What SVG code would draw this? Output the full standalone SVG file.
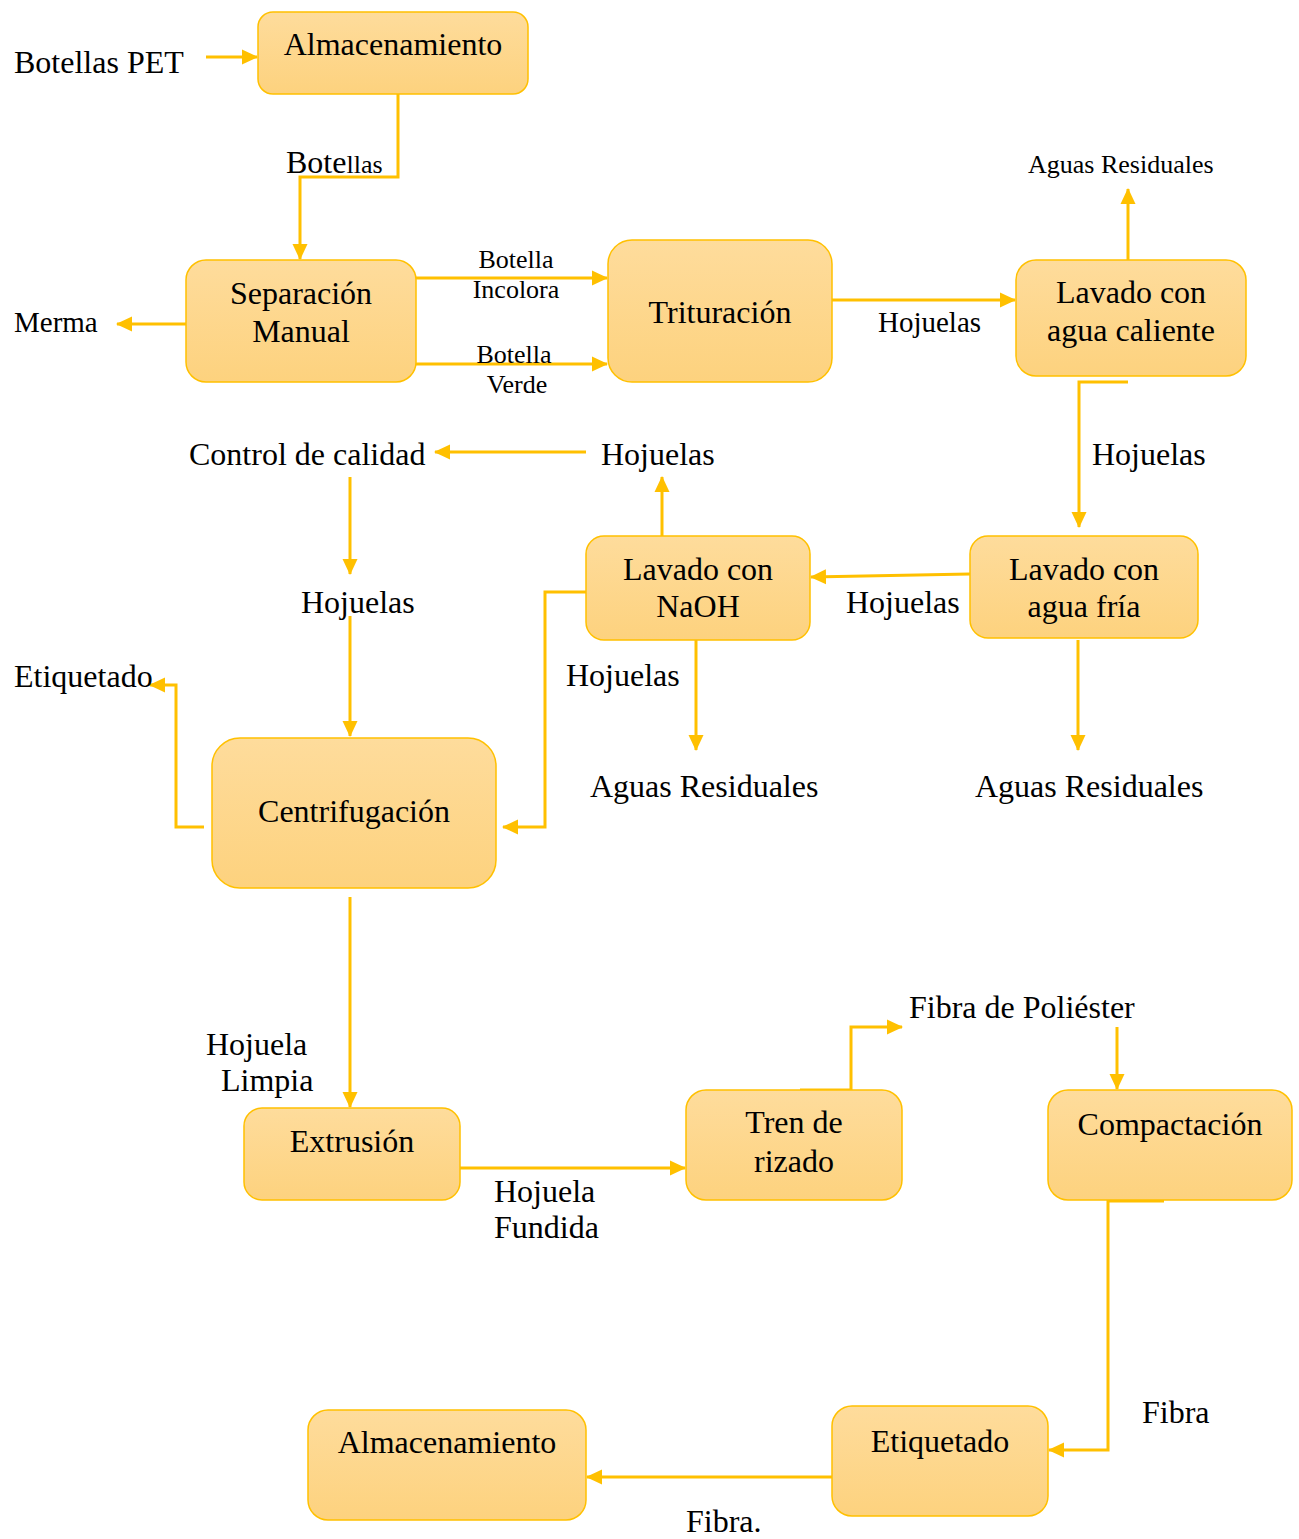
<svg xmlns="http://www.w3.org/2000/svg" width="1299" height="1539" viewBox="0 0 1299 1539">
  <defs>
    <linearGradient id="boxFill" x1="0" y1="0" x2="0" y2="1">
      <stop offset="0" stop-color="#FEDC9C"/>
      <stop offset="1" stop-color="#FDD27E"/>
    </linearGradient>
    <marker id="arrow" markerUnits="userSpaceOnUse" markerWidth="16" markerHeight="16" viewBox="0 0 16 16" refX="15" refY="8" orient="auto">
      <path d="M0,0.5 L16,8 L0,15.5 Z" fill="#FFC000"/>
    </marker>
    <style>
      .box { fill: url(#boxFill); stroke: #FFC000; stroke-width: 1.5; }
      .t { font-family: "Liberation Serif", "Times New Roman", serif; font-size: 32px; fill: #000; }
      .c { text-anchor: middle; }
      .s26 { font-size: 26px; }
      .s29 { font-size: 29px; }
      .wire { fill: none; stroke: #FFC000; stroke-width: 3; }
      .arr { marker-end: url(#arrow); }
    </style>
  </defs>

  <rect width="1299" height="1539" fill="#fff"/>

  <!-- process flow connectors -->
  <g id="connectors">
    <path class="wire arr" d="M206,57 H257"/>
    <path class="wire arr" d="M398,94 V177 H300 V259"/>
    <path class="wire arr" d="M186,324 H117"/>
    <path class="wire arr" d="M416,278 H607"/>
    <path class="wire arr" d="M416,364 H607"/>
    <path class="wire arr" d="M832,300 H1015"/>
    <path class="wire arr" d="M1128,260 V189"/>
    <path class="wire arr" d="M1128,382 H1079 V527"/>
    <path class="wire arr" d="M970,574 L811,577"/>
    <path class="wire arr" d="M1078,640 V750"/>
    <path class="wire arr" d="M662,536 V477"/>
    <path class="wire arr" d="M586,452 H435"/>
    <path class="wire arr" d="M350,477 V574"/>
    <path class="wire arr" d="M350,616 V736"/>
    <path class="wire arr" d="M586,592 H545 V827 H503"/>
    <path class="wire arr" d="M696,640 V750"/>
    <path class="wire arr" d="M204,827 H176 V685 H150"/>
    <path class="wire arr" d="M350,897 V1107"/>
    <path class="wire arr" d="M460,1168 H685"/>
    <path class="wire arr" d="M800,1090 H851 V1027 H902"/>
    <path class="wire arr" d="M1117,1027 V1089"/>
    <path class="wire arr" d="M1164,1201 H1108 V1450 H1049"/>
    <path class="wire arr" d="M832,1477 H587"/>
  </g>

  <!-- process steps -->
  <g id="almacenamiento-inicio">
    <rect class="box" x="258" y="12" width="270" height="82" rx="15"/>
    <text class="t c" x="393" y="55">Almacenamiento</text>
  </g>
  <g id="separacion-manual">
    <rect class="box" x="186" y="260" width="230" height="122" rx="20"/>
    <text class="t c" x="301" y="304">Separación</text>
    <text class="t c" x="301" y="342">Manual</text>
  </g>
  <g id="trituracion">
    <rect class="box" x="608" y="240" width="224" height="142" rx="24"/>
    <text class="t c" x="720" y="323">Trituración</text>
  </g>
  <g id="lavado-caliente">
    <rect class="box" x="1016" y="260" width="230" height="116" rx="20"/>
    <text class="t c" x="1131" y="303">Lavado con</text>
    <text class="t c" x="1131" y="341">agua caliente</text>
  </g>
  <g id="lavado-naoh">
    <rect class="box" x="586" y="536" width="224" height="104" rx="18"/>
    <text class="t c" x="698" y="580">Lavado con</text>
    <text class="t c" x="698" y="617">NaOH</text>
  </g>
  <g id="lavado-fria">
    <rect class="box" x="970" y="536" width="228" height="102" rx="18"/>
    <text class="t c" x="1084" y="580">Lavado con</text>
    <text class="t c" x="1084" y="617">agua fría</text>
  </g>
  <g id="centrifugacion">
    <rect class="box" x="212" y="738" width="284" height="150" rx="28"/>
    <text class="t c" x="354" y="822">Centrifugación</text>
  </g>
  <g id="extrusion">
    <rect class="box" x="244" y="1108" width="216" height="92" rx="18"/>
    <text class="t c" x="352" y="1152">Extrusión</text>
  </g>
  <g id="tren-rizado">
    <rect class="box" x="686" y="1090" width="216" height="110" rx="20"/>
    <text class="t c" x="794" y="1133">Tren de</text>
    <text class="t c" x="794" y="1172">rizado</text>
  </g>
  <g id="compactacion">
    <rect class="box" x="1048" y="1090" width="244" height="110" rx="20"/>
    <text class="t c" x="1170" y="1135">Compactación</text>
  </g>
  <g id="etiquetado">
    <rect class="box" x="832" y="1406" width="216" height="110" rx="20"/>
    <text class="t c" x="940" y="1452">Etiquetado</text>
  </g>
  <g id="almacenamiento-final">
    <rect class="box" x="308" y="1410" width="278" height="110" rx="20"/>
    <text class="t c" x="447" y="1453">Almacenamiento</text>
  </g>

  <!-- stream labels -->
  <g id="labels">
    <text class="t" x="14" y="73">Botellas PET</text>
    <text class="t" x="286" y="173">Bote<tspan class="s26">llas</tspan></text>
    <text class="t s29" x="14" y="332">Merma</text>
    <text class="t s26 c" x="516" y="268">Botella</text>
    <text class="t s26 c" x="516" y="298">Incolora</text>
    <text class="t s26 c" x="514" y="363">Botella</text>
    <text class="t s26 c" x="517" y="393">Verde</text>
    <text class="t s29" x="878" y="332">Hojuelas</text>
    <text class="t s26" x="1028" y="173">Aguas Residuales</text>
    <text class="t" x="189" y="465">Control de calidad</text>
    <text class="t" x="601" y="465">Hojuelas</text>
    <text class="t" x="1092" y="465">Hojuelas</text>
    <text class="t" x="301" y="613">Hojuelas</text>
    <text class="t" x="846" y="613">Hojuelas</text>
    <text class="t" x="566" y="686">Hojuelas</text>
    <text class="t" x="590" y="797">Aguas Residuales</text>
    <text class="t" x="975" y="797">Aguas Residuales</text>
    <text class="t" x="14" y="687">Etiquetado</text>
    <text class="t" x="206" y="1055">Hojuela</text>
    <text class="t" x="221" y="1091">Limpia</text>
    <text class="t" x="494" y="1202">Hojuela</text>
    <text class="t" x="494" y="1238">Fundida</text>
    <text class="t" x="909" y="1018">Fibra de Poliéster</text>
    <text class="t" x="1142" y="1423">Fibra</text>
    <text class="t" x="686" y="1532">Fibra.</text>
  </g>
</svg>
